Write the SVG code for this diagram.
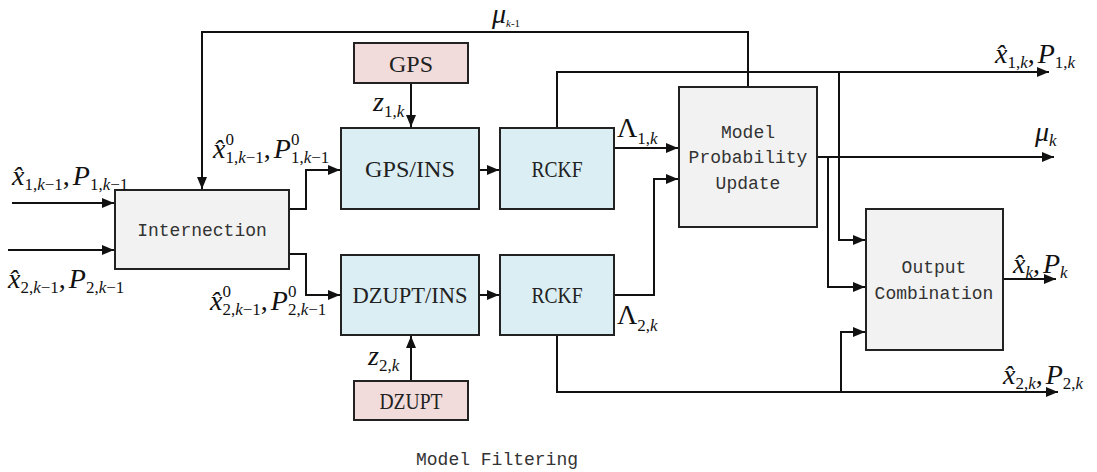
<svg xmlns="http://www.w3.org/2000/svg" width="1097" height="472" viewBox="0 0 1097 472">
<style>
.box{stroke:#222;stroke-width:2}
.g{fill:#f2f2f2}
.b{fill:#dbeef3}
.r{fill:#f2dcdb}
.ln{fill:none;stroke:#111;stroke-width:2}
.mono{font-family:"Liberation Mono",monospace;font-size:18px;fill:#333;text-anchor:middle}
.ser{font-family:"Liberation Serif",serif;font-size:24px;fill:#222;text-anchor:middle}
.m{font-family:"Liberation Serif",serif;font-size:28px;fill:#111}
.i{font-style:italic}
.s{font-size:17px}
</style>
<defs>
<marker id="ah" markerUnits="userSpaceOnUse" markerWidth="13" markerHeight="12" refX="12" refY="5" orient="auto">
<path d="M0,0 L12,5 L0,10 z" fill="#111"/>
</marker>
</defs>

<g id="connectors" class="ln">
<path d="M12,203 H114" marker-end="url(#ah)"/>
<path d="M8,250 H114" marker-end="url(#ah)"/>
<path d="M748,87 V32 H202 V189" marker-end="url(#ah)"/>
<path d="M289,209 H306 V170 H340" marker-end="url(#ah)"/>
<path d="M289,254 H306 V295 H340" marker-end="url(#ah)"/>
<path d="M411,83 V127" marker-end="url(#ah)"/>
<path d="M411,381 V336" marker-end="url(#ah)"/>
<path d="M479,170 H499" marker-end="url(#ah)"/>
<path d="M479,295 H499" marker-end="url(#ah)"/>
<path d="M614,148 H678" marker-end="url(#ah)"/>
<path d="M614,295 H654 V179 H678" marker-end="url(#ah)"/>
<path d="M557,128 V72 H1049" marker-end="url(#ah)"/>
<path d="M557,335 V392 H1058" marker-end="url(#ah)"/>
<path d="M817,157 H1054" marker-end="url(#ah)"/>
<path d="M828,157 V287 H865" marker-end="url(#ah)"/>
<path d="M839,72 V240 H865" marker-end="url(#ah)"/>
<path d="M841,392 V332 H865" marker-end="url(#ah)"/>
<path d="M1003,279 H1056" marker-end="url(#ah)"/>
</g>

<g id="internection">
<rect class="box g" x="115" y="190" width="174" height="79"/>
<text class="mono" x="202" y="236">Internection</text>
</g>
<g id="gps">
<rect class="box r" x="354" y="43" width="114" height="40"/>
<text class="ser" x="411" y="72">GPS</text>
</g>
<g id="gps-ins">
<rect class="box b" x="341" y="128" width="138" height="81"/>
<text class="ser" x="410" y="177" textLength="90" lengthAdjust="spacingAndGlyphs">GPS/INS</text>
</g>
<g id="rckf1">
<rect class="box b" x="500" y="128" width="114" height="81"/>
<text class="ser" x="557" y="177" textLength="51" lengthAdjust="spacingAndGlyphs">RCKF</text>
</g>
<g id="dzupt-ins">
<rect class="box b" x="341" y="255" width="138" height="80"/>
<text class="ser" x="410" y="303" textLength="115" lengthAdjust="spacingAndGlyphs">DZUPT/INS</text>
</g>
<g id="rckf2">
<rect class="box b" x="500" y="255" width="114" height="80"/>
<text class="ser" x="557" y="303" textLength="51" lengthAdjust="spacingAndGlyphs">RCKF</text>
</g>
<g id="dzupt">
<rect class="box r" x="354" y="381" width="114" height="39"/>
<text class="ser" x="411" y="409" textLength="63" lengthAdjust="spacingAndGlyphs">DZUPT</text>
</g>
<g id="mpu">
<rect class="box g" x="679" y="87" width="138" height="140"/>
<text class="mono" x="748" y="138">Model</text>
<text class="mono" x="748" y="163">Probability</text>
<text class="mono" x="748" y="189">Update</text>
</g>
<g id="output-combination">
<rect class="box g" x="866" y="209" width="137" height="141"/>
<text class="mono" x="934" y="273">Output</text>
<text class="mono" x="934" y="299">Combination</text>
</g>
<text class="mono" x="497" y="465">Model Filtering</text>

<g id="labels">
<text class="m" x="12" y="185"><tspan class="i">x̂</tspan><tspan class="s" dy="5">1,<tspan class="i">k</tspan>−1</tspan><tspan dy="-5">,</tspan><tspan class="i" dx="3">P</tspan><tspan class="s" dy="5">1,<tspan class="i">k</tspan>−1</tspan></text>
<text class="m" x="8" y="288"><tspan class="i">x̂</tspan><tspan class="s" dy="5">2,<tspan class="i">k</tspan>−1</tspan><tspan dy="-5">,</tspan><tspan class="i" dx="3">P</tspan><tspan class="s" dy="5">2,<tspan class="i">k</tspan>−1</tspan></text>
<text class="m" x="213" y="158"><tspan class="i">x̂</tspan><tspan class="s" dy="-13">0</tspan><tspan class="s" dx="-8.5" dy="18">1,<tspan class="i">k</tspan>−1</tspan><tspan dy="-5">,</tspan><tspan class="i" dx="3">P</tspan><tspan class="s" dy="-13">0</tspan><tspan class="s" dx="-8.5" dy="18">1,<tspan class="i">k</tspan>−1</tspan></text>
<text class="m" x="210" y="310"><tspan class="i">x̂</tspan><tspan class="s" dy="-13">0</tspan><tspan class="s" dx="-8.5" dy="18">2,<tspan class="i">k</tspan>−1</tspan><tspan dy="-5">,</tspan><tspan class="i" dx="3">P</tspan><tspan class="s" dy="-13">0</tspan><tspan class="s" dx="-8.5" dy="18">2,<tspan class="i">k</tspan>−1</tspan></text>
<text class="m" x="373" y="111"><tspan class="i">z</tspan><tspan class="s" dy="6">1,<tspan class="i">k</tspan></tspan></text>
<text class="m" x="368" y="365"><tspan class="i">z</tspan><tspan class="s" dy="6">2,<tspan class="i">k</tspan></tspan></text>
<text class="m" x="617" y="137" font-size="25">Λ<tspan class="s" font-size="15" dy="7">1,<tspan class="i">k</tspan></tspan></text>
<text class="m" x="617" y="324" font-size="25">Λ<tspan class="s" font-size="15" dy="7">2,<tspan class="i">k</tspan></tspan></text>
<text class="m" x="492" y="23" font-size="20"><tspan class="i">μ</tspan><tspan font-size="11" dy="4"><tspan class="i">k</tspan>-1</tspan></text>
<text class="m" x="995" y="63"><tspan class="i">x̂</tspan><tspan class="s" dy="5">1,<tspan class="i">k</tspan></tspan><tspan dy="-5">,</tspan><tspan class="i" dx="3">P</tspan><tspan class="s" dy="5">1,<tspan class="i">k</tspan></tspan></text>
<text class="m" x="1035" y="141" font-size="30"><tspan class="i">μ</tspan><tspan class="s i" dy="5">k</tspan></text>
<text class="m" x="1013" y="273"><tspan class="i">x̂</tspan><tspan class="s i" dy="5">k</tspan><tspan dy="-5">,</tspan><tspan class="i" dx="3">P</tspan><tspan class="s i" dy="5">k</tspan></text>
<text class="m" x="1003" y="384"><tspan class="i">x̂</tspan><tspan class="s" dy="5">2,<tspan class="i">k</tspan></tspan><tspan dy="-5">,</tspan><tspan class="i" dx="3">P</tspan><tspan class="s" dy="5">2,<tspan class="i">k</tspan></tspan></text>
</g>
</svg>
